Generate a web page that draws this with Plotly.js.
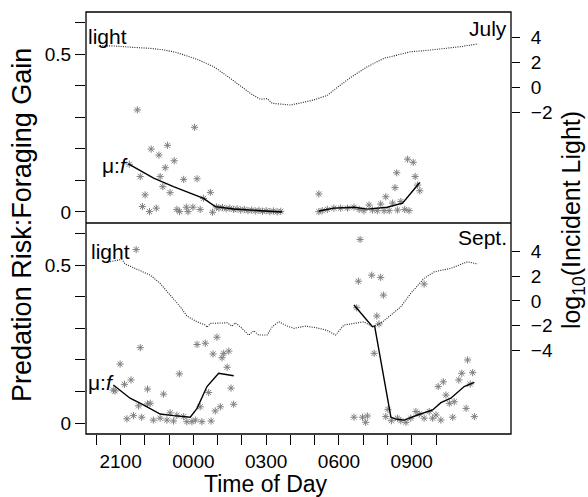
<!DOCTYPE html>
<html>
<head>
<meta charset="utf-8">
<script src="https://cdn.plot.ly/plotly-3.0.1.min.js"></script>
<style>html,body{margin:0;padding:0;background:#fff;}#chart{width:588px;height:497px;}</style>
</head>
<body>
<div id="chart"></div>
<script>
// Time in hours (24 = midnight, 30 = 06:00 next day)
const xTickVals = [20,21,22,23,24,25,26,27,28,29,30,31,32,33,34];
const xTickText = ['','2100','','','0000','','','0300','','','0600','','','0900',''];

// July panel: log10 incident light
const julLightT = [20.15,20.7,21.5,22.22,22.8,23.32,24.15,24.84,25.39,25.94,26.35,26.76,27.04,27.25,27.59,28.0,28.42,28.97,29.52,29.93,30.48,30.9,31.17,31.86,32.4,32.96,33.5,34.2,35.0,35.72];
const julLightL = [3.33,3.31,3.2,3.12,2.99,2.78,2.25,1.66,0.92,0.13,-0.46,-0.93,-0.88,-1.25,-1.31,-1.39,-1.22,-0.98,-0.62,0.02,0.8,1.34,1.66,2.33,2.59,2.85,2.93,3.07,3.25,3.47];
// July panel: fitted mu:f line
const julLineT = [21.32,22.36,23.18,24.42,24.9,25.66,26.76,27.66,null,29.17,29.79,30.62,31.17,31.99,32.62,32.96,33.33];
const julLineV = [0.152,0.107,0.08,0.043,0.017,0.0095,0.004,0.0,null,0.003,0.012,0.015,0.009,0.015,0.028,0.059,0.093];
// July panel: observed mu:f points
const julPtsT = [21.69,24.05,22.26,22.93,22.58,23.21,22.84,21.36,21.81,22.63,23.60,24.15,22.74,23.04,22.01,24.70,24.42,21.90,22.19,22.47,23.32,23.43,23.71,23.78,23.98,24.28,24.79,
  24.95,25.05,25.2,25.35,25.5,25.65,25.8,25.95,26.1,26.25,26.4,26.55,26.7,26.85,27.0,27.15,27.3,27.45,27.6,
  29.17,32.83,33.06,32.38,33.14,32.31,31.93,33.24,33.33,31.72,32.21,32.55,32.71,32.89,32.41,32.07,31.86,31.58,31.38,31.24,31.03,30.83,30.62,30.35,30.07,29.79,29.52,29.31,29.17];
const julPtsV = [0.323,0.268,0.199,0.211,0.180,0.162,0.140,0.151,0.112,0.112,0.103,0.105,0.080,0.061,0.054,0.062,0.043,0.017,0.001,0.012,0.008,0.001,0.015,0.001,0.015,0.008,-0.001,
  0.016,0.012,0.014,0.010,0.012,0.008,0.010,0.006,0.008,0.004,0.006,0.003,0.005,0.002,0.004,0.001,0.003,0.000,0.002,
  0.057,0.167,0.157,0.124,0.112,0.077,0.048,0.085,0.067,0.025,0.028,0.033,0.008,0.004,0.006,0.004,0.004,0.004,0.006,0.022,0.004,0.008,0.015,0.012,0.012,0.012,0.008,0.004,0.001];

// Sept. panel: log10 incident light
const sepLightT = [20.57,21.05,21.19,21.67,22.22,22.63,23.04,23.46,23.73,24.15,24.49,24.56,24.7,25.39,25.59,25.73,26.0,26.28,26.49,26.69,27.04,27.25,27.52,27.87,28.14,28.62,29.11,29.52,29.86,30.21,30.62,31.03,31.38,31.72,32.14,32.55,32.96,33.51,33.93,34.61,35.3,35.72];
const sepLightL = [3.19,3.38,3.0,2.57,2.1,1.43,0.48,-0.48,-1.23,-1.7,-1.96,-2.15,-1.83,-1.78,-2.05,-1.78,-2.23,-2.78,-2.43,-2.78,-2.78,-2.1,-1.7,-2.05,-2.23,-2.05,-2.2,-2.4,-2.78,-1.96,-1.83,-1.7,-2.1,-1.83,-1.15,-0.48,0.62,1.84,2.37,2.65,3.19,3.0];
// Sept. panel: fitted mu:f line
const sepLineT = [20.7,21.39,21.94,22.63,23.18,23.87,24.15,24.56,25.04,25.66,null,30.62,31.38,31.47,32.14,32.34,32.69,33.24,33.86,34.2,34.61,35.16,35.58];
const sepLineV = [0.121,0.079,0.058,0.029,0.024,0.019,0.047,0.116,0.158,0.150,null,0.374,0.305,0.307,0.019,0.013,0.010,0.026,0.042,0.065,0.079,0.116,0.129];
// Sept. panel: observed mu:f points
const sepPtsT = [21.64,20.98,21.81,21.43,21.16,20.77,20.70,22.11,21.74,22.11,22.22,21.53,21.87,21.26,22.77,23.42,22.35,22.63,22.91,23.04,23.18,23.32,23.60,23.73,23.94,24.08,24.35,24.73,24.28,24.63,24.90,25.11,25.55,25.66,25.39,25.18,25.25,25.46,24.81,24.97,24.49,24.15,
  30.87,30.80,31.35,31.72,31.83,30.73,31.56,31.65,31.45,33.51,30.62,30.97,31.10,31.17,31.93,32.02,32.16,32.41,32.55,32.76,32.96,33.17,33.31,33.51,33.72,33.86,34.00,34.20,34.09,34.30,34.41,34.55,34.75,34.69,34.94,35.06,35.24,35.30,35.41,35.51,35.58];
const sepPtsV = [0.549,0.187,0.239,0.137,0.123,0.102,0.105,0.108,0.055,0.061,0.063,0.024,0.019,0.014,0.092,0.156,0.010,0.016,0.010,0.033,0.007,0.025,0.021,0.005,0.005,0.010,0.005,0.007,0.052,0.097,0.039,0.052,0.111,0.060,0.177,0.207,0.221,0.228,0.219,0.272,0.253,0.249,
  0.581,0.449,0.468,0.461,0.405,0.365,0.339,0.314,0.221,0.440,0.019,0.019,0.003,0.023,0.021,0.044,0.008,0.016,0.008,0.003,0.016,0.037,0.029,0.016,0.037,0.016,0.026,0.010,0.116,0.131,0.089,0.063,0.068,0.019,0.137,0.158,0.047,0.200,0.124,0.160,0.021];

const FONT = 'Liberation Sans, Arial, Helvetica, sans-serif';
const lightLine = {color:'#222', width:1.1, dash:'1px,1.3px'};
const fitLine = {color:'#000', width:1.4};
const star = {symbol:'asterisk-open', size:6, color:'#808080', line:{color:'#808080', width:1}};

const traces = [
  {x:julLightT, y:julLightL, xaxis:'x', yaxis:'y2', mode:'lines', line:lightLine, hoverinfo:'skip'},
  {x:julPtsT, y:julPtsV, xaxis:'x', yaxis:'y', mode:'markers', marker:star},
  {x:julLineT, y:julLineV, xaxis:'x', yaxis:'y', mode:'lines', line:fitLine, connectgaps:false},
  {x:sepLightT, y:sepLightL, xaxis:'x', yaxis:'y4', mode:'lines', line:lightLine, hoverinfo:'skip'},
  {x:sepPtsT, y:sepPtsV, xaxis:'x', yaxis:'y3', mode:'markers', marker:star},
  {x:sepLineT, y:sepLineV, xaxis:'x', yaxis:'y3', mode:'lines', line:fitLine, connectgaps:false}
];

const leftY = {
  tickvals:[0,0.1,0.2,0.3,0.4,0.5,0.6], ticktext:['0','','','','','0.5',''],
  ticks:'outside', ticklen:10, tickwidth:1, tickcolor:'#000',
  showgrid:false, zeroline:false, showline:false,
  tickfont:{family:FONT, size:19, color:'#000'}
};
const rightY = {
  side:'right', ticks:'outside', ticklen:8, tickwidth:1, tickcolor:'#000',
  ticklabelstandoff:7,
  showgrid:false, zeroline:false, showline:false,
  tickfont:{family:FONT, size:19, color:'#000'}
};

const layout = {
  width:588, height:497,
  margin:{l:86, r:77, t:12, b:63},
  paper_bgcolor:'#fff', plot_bgcolor:'#fff',
  showlegend:false,
  font:{family:FONT, color:'#000'},
  xaxis:{
    range:[19.574,37.09], anchor:'y3',
    tickvals:xTickVals, ticktext:xTickText, tickangle:0,
    ticks:'outside', ticklen:10, tickwidth:1, tickcolor:'#000',
    showgrid:false, zeroline:false, showline:false,
    tickfont:{family:FONT, size:19, color:'#000'}
  },
  yaxis:Object.assign({}, leftY, {domain:[0.5,1], range:[-0.035,0.633], anchor:'x'}),
  yaxis2:Object.assign({}, rightY, {overlaying:'y', anchor:'x', range:[-10.77,6.01],
    tickvals:[4,2,0,-2], ticktext:['4','2','0','\u22122']}),
  yaxis3:Object.assign({}, leftY, {domain:[0,0.5], range:[-0.034,0.633], anchor:'x'}),
  yaxis4:Object.assign({}, rightY, {overlaying:'y3', anchor:'x', range:[-10.83,6.34],
    tickvals:[4,2,0,-2,-4], ticktext:['4','2','0','\u22122','\u22124']}),
  shapes:[
    {type:'rect', xref:'paper', yref:'paper', x0:0, x1:1, y0:0, y1:1, line:{color:'#000', width:1.3}},
    {type:'line', xref:'paper', yref:'paper', x0:0, x1:1, y0:0.5, y1:0.5, line:{color:'#000', width:1.3}}
  ],
  annotations:[
    {text:'Predation Risk:Foraging Gain', xref:'paper', yref:'paper', x:-0.151, y:0.495, textangle:-90,
     showarrow:false, xanchor:'center', yanchor:'middle', font:{family:FONT, size:27, color:'#000'}},
    {text:'log<sub>10</sub>(Incident Light)', xref:'paper', yref:'paper', x:1.146, y:0.507, textangle:-90,
     showarrow:false, xanchor:'center', yanchor:'middle', font:{family:FONT, size:25, color:'#000'}},
    {text:'Time of Day', xref:'paper', yref:'paper', x:0.4245, y:-0.1185, borderpad:0,
     showarrow:false, xanchor:'center', yanchor:'middle', font:{family:FONT, size:23, color:'#000'}},
    {text:'light', xref:'paper', yref:'paper', x:0.0, y:0.943, showarrow:false, xanchor:'left', yanchor:'middle',
     font:{family:FONT, size:21, color:'#000'}},
    {text:'\u03bc:<i>f</i>', xref:'paper', yref:'paper', x:0.032, y:0.637, showarrow:false, xanchor:'left', yanchor:'middle',
     font:{family:FONT, size:21, color:'#000'}},
    {text:'July', xref:'paper', yref:'paper', x:0.995, y:0.96, showarrow:false, xanchor:'right', yanchor:'middle',
     font:{family:FONT, size:21, color:'#000'}},
    {text:'light', xref:'paper', yref:'paper', x:0.006, y:0.4336, showarrow:false, xanchor:'left', yanchor:'middle',
     font:{family:FONT, size:21, color:'#000'}},
    {text:'\u03bc:<i>f</i>', xref:'paper', yref:'paper', x:0.0, y:0.121, showarrow:false, xanchor:'left', yanchor:'middle',
     font:{family:FONT, size:21, color:'#000'}},
    {text:'Sept.', xref:'paper', yref:'paper', x:0.995, y:0.4645, showarrow:false, xanchor:'right', yanchor:'middle',
     font:{family:FONT, size:21, color:'#000'}}
  ]
};

Plotly.newPlot('chart', traces, layout, {staticPlot:true, displayModeBar:false});
</script>
</body>
</html>
